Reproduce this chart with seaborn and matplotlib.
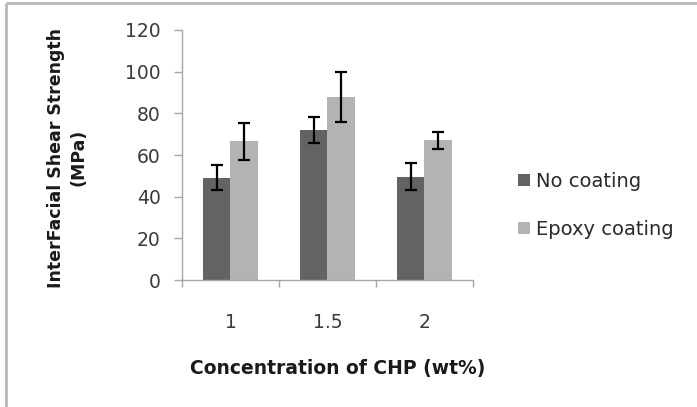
import matplotlib
matplotlib.use("Agg")
import matplotlib.pyplot as plt
from matplotlib.lines import Line2D
import seaborn as sns
import pandas as pd

# Interfacial shear strength vs. CHP concentration
concentrations = ["1", "1.5", "2"]
series_names = ["No coating", "Epoxy coating"]
no_coating = [49, 72, 49.5]
no_coating_err = [6, 6.2, 6.5]
epoxy_coating = [66.5, 88, 67]
epoxy_coating_err = [9, 12, 4]
y_ticks = [0, 20, 40, 60, 80, 100, 120]

sns.set_theme(style="white")
plt.rcParams["font.family"] = ["DejaVu Sans"]

df = pd.DataFrame({
    "conc": concentrations * 2,
    "coating": [series_names[0]] * 3 + [series_names[1]] * 3,
    "ifss": no_coating + epoxy_coating,
    "err": no_coating_err + epoxy_coating_err,
})

fig = plt.figure(figsize=(6.97, 4.07), dpi=100)
ax = fig.add_axes([0.2611, 0.3120, 0.6786 - 0.2611, 0.9263 - 0.3120])

palette = {series_names[0]: "#636363", series_names[1]: "#b3b3b3"}
sns.barplot(data=df, x="conc", y="ifss", hue="coating", order=concentrations,
            hue_order=series_names, palette=palette, width=0.57, errorbar=None,
            saturation=1, linewidth=0, ax=ax, legend=False)

# error bars on top of each bar
for container, name in zip(ax.containers, series_names):
    sub = df[df["coating"] == name].set_index("conc").loc[concentrations]
    xs = [p.get_x() + p.get_width() / 2 for p in container.patches]
    ax.errorbar(xs, sub["ifss"].values, yerr=sub["err"].values, fmt="none",
                ecolor="black", elinewidth=1.6, capsize=4.5, capthick=1.6)

ax.set_xlim(-0.5, 2.5)
ax.set_ylim(0, 120)
ax.set_yticks(y_ticks)
ax.set_yticklabels([str(t) for t in y_ticks])

# category boundary ticks on the x axis
ax.set_xticks([-0.5, 0.5, 1.5, 2.5], minor=True)
ax.set_xticks(range(len(concentrations)))
ax.set_xticklabels(concentrations)
ax.tick_params(axis="x", which="major", length=0, pad=24, labelsize=13.5, labelcolor="#3a3a3a")
ax.tick_params(axis="x", which="minor", length=5, width=1, color="#a6a6a6", direction="out", bottom=True)
ax.tick_params(axis="y", length=5.5, width=1, color="#a6a6a6", direction="out", left=True,
               labelsize=13.5, labelcolor="#3a3a3a", pad=10)

for side in ["top", "right"]:
    ax.spines[side].set_visible(False)
for side in ["left", "bottom"]:
    ax.spines[side].set_color("#a6a6a6")
    ax.spines[side].set_linewidth(1)

ax.set_xlabel("Concentration of CHP (wt%)", fontsize=13.5, fontweight="bold", color="#1a1a1a")
ax.xaxis.set_label_coords(0.536, -0.315)
ax.set_ylabel("InterFacial Shear Strength\n(MPa)", fontsize=12.5, fontweight="bold",
              color="#1a1a1a", linespacing=1.3)
ax.yaxis.set_label_coords(-0.326, 0.49)

handles = [Line2D([0], [0], marker="s", linestyle="none", markersize=8.6,
                  markerfacecolor=palette[n], markeredgewidth=0) for n in series_names]
fig.legend(handles, series_names, loc="center left", bbox_to_anchor=(0.716, 0.495),
           frameon=False, fontsize=14, handletextpad=0.2, labelspacing=1.5,
           handlelength=0.8, labelcolor="#2a2a2a")

# outer frame lines on the left and top
fig.add_artist(Line2D([0.0087, 0.0087], [0, 0.993], transform=fig.transFigure,
                      color="#b8b8b8", linewidth=2, solid_capstyle="butt"))
fig.add_artist(Line2D([0.0087, 1.0], [0.993, 0.993], transform=fig.transFigure,
                      color="#b8b8b8", linewidth=2, solid_capstyle="butt"))

fig.savefig("out.png", dpi=100, facecolor="white")
